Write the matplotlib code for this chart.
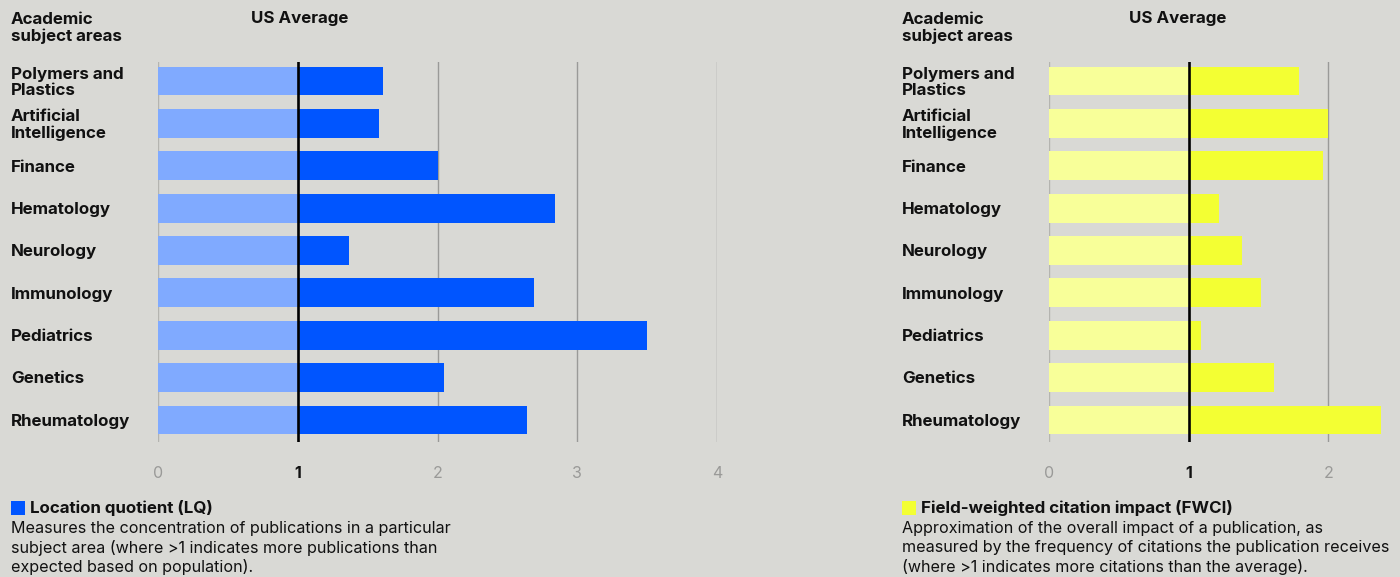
import matplotlib
matplotlib.use("Agg")
import matplotlib.pyplot as plt
from matplotlib.patches import Rectangle
import matplotlib.transforms as mtrans

categories = ["Polymers and\nPlastics", "Artificial\nIntelligence", "Finance", "Hematology",
              "Neurology", "Immunology", "Pediatrics", "Genetics", "Rheumatology"]
lq_values = [1.61, 1.58, 2.0, 2.84, 1.37, 2.69, 3.50, 2.05, 2.64]
fwci_values = [1.79, 2.0, 1.96, 1.22, 1.38, 1.52, 1.09, 1.61, 2.38]
lq_ticks = [0, 1, 2, 3, 4]
fwci_ticks = [0, 1, 2]

BG = "#d9d9d5"
FONT = ["Inter", "DejaVu Sans"]
W, H = 1400, 577
fig = plt.figure(figsize=(14, 5.77), dpi=100, facecolor=BG)

def fx(px):
    return px / W

def fy(py):
    return 1 - py / H

top_px, bot_px = 62, 442
def make_ax(x0, x1):
    ax = fig.add_axes([fx(x0), fy(bot_px), (x1 - x0) / W, (bot_px - top_px) / H])
    ax.set_facecolor(BG)
    for s in ax.spines.values():
        s.set_visible(False)
    ax.tick_params(left=False, bottom=False, labelleft=False, labelbottom=False)
    ax.set_ylim(8.52, -0.45)
    return ax

def draw_panel(ax, values, ticks, xmax, light, dark):
    ax.set_xlim(0, xmax)
    for t in ticks:
        if t == 1:
            continue
        ax.axvline(t, color="#b4b4b0" if t == 0 else "#9a9a98", lw=1.0, zorder=1)
    for i, v in enumerate(values):
        ax.barh(i, 1.0, left=0, height=0.68, color=light, zorder=2, linewidth=0)
        ax.barh(i, v - 1.0, left=1.0, height=0.68, color=dark, zorder=2, linewidth=0)
    ax.axvline(1, color="black", lw=1.9, zorder=3)
    tick_y = -(473 - bot_px) / (bot_px - top_px)
    for t in ticks:
        ax.text(t, tick_y, str(t), transform=ax.get_xaxis_transform(), ha="center", va="center",
                fontsize=11.5, family=FONT,
                color="#111111" if t == 1 else "#9a9a98",
                fontweight="bold" if t == 1 else "normal")

axL = make_ax(158, 717)
draw_panel(axL, lq_values, lq_ticks, 4.0, "#80aaff", "#0055ff")
axR = make_ax(1049, 1384)
draw_panel(axR, fwci_values, fwci_ticks, 2.4, "#f8ff99", "#f3ff33")

for ax, lx in ((axL, 11), (axR, 902)):
    tr = mtrans.blended_transform_factory(fig.transFigure, ax.transData)
    for i, c in enumerate(categories):
        ax.text(fx(lx), i + 0.03, c, transform=tr,
                ha="left", va="center", fontsize=12.2, fontweight="bold", family=FONT,
                color="#111111", linespacing=1.12)

# headers
for lx, ux in ((11, 300), (902, 1178)):
    fig.text(fx(lx), fy(28), "Academic\nsubject areas", ha="left", va="center", fontsize=12.2,
             fontweight="bold", family=FONT, color="#111111", linespacing=1.12)
    fig.text(fx(ux), fy(18), "US Average", ha="center", va="center", fontsize=12.2,
             fontweight="bold", family=FONT, color="#111111")

# legends
legends = [
    (11, "#0055ff", "Location quotient (LQ)",
     ["Measures the concentration of publications in a particular",
      "subject area (where >1 indicates more publications than",
      "expected based on population)."]),
    (902, "#f3ff33", "Field-weighted citation impact (FWCI)",
     ["Approximation of the overall impact of a publication, as",
      "measured by the frequency of citations the publication receives",
      "(where >1 indicates more citations than the average)."]),
]
for lx, col, title, lines in legends:
    fig.patches.append(Rectangle((fx(lx), fy(515)), 14 / W, 14 / H, transform=fig.transFigure,
                                 facecolor=col, edgecolor="none"))
    fig.text(fx(lx + 19), fy(508), title, ha="left", va="center", fontsize=12.2,
             fontweight="bold", family=FONT, color="#111111")
    for k, ln in enumerate(lines):
        fig.text(fx(lx), fy(528 + 19.5 * k), ln, ha="left", va="center", fontsize=11.6,
                 family=FONT, color="#111111")

fig.savefig("out.png", dpi=100, facecolor=BG)
